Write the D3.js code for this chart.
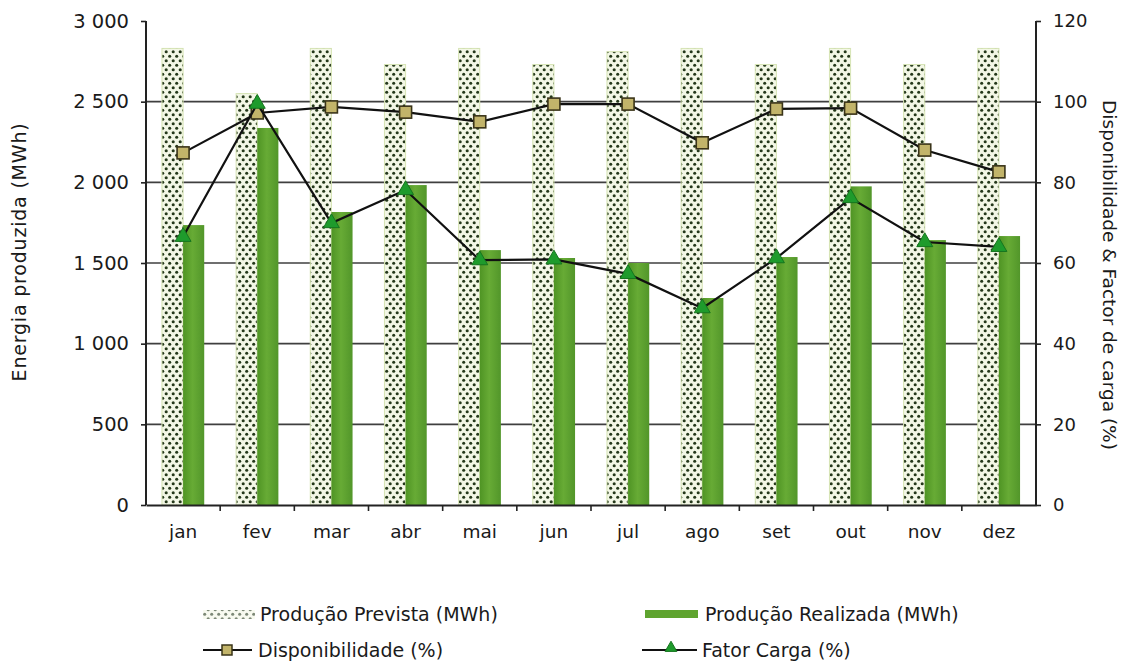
<!DOCTYPE html>
<html>
<head>
<meta charset="utf-8">
<script src="https://cdn.jsdelivr.net/npm/d3@7"></script>
<style>
  html, body { margin: 0; padding: 0; background: #fff; }
  svg { display: block; font-family: "DejaVu Sans", Verdana, sans-serif; }
</style>
</head>
<body>
<svg id="chart" width="1125" height="661"></svg>
<script>
// ---- data ----
const months = ["jan", "fev", "mar", "abr", "mai", "jun", "jul", "ago", "set", "out", "nov", "dez"];
const producaoPrevista = [2830, 2550, 2830, 2730, 2830, 2730, 2810, 2830, 2730, 2830, 2730, 2830];
const producaoRealizada = [1735, 2337, 1816, 1983, 1580, 1531, 1500, 1283, 1537, 1975, 1642, 1667];
const disponibilidade = [87.3, 97.2, 98.7, 97.4, 95.0, 99.4, 99.4, 89.8, 98.2, 98.4, 88.0, 82.6];
const fatorCarga = [66.5, 99.5, 69.9, 78.1, 60.7, 60.9, 57.3, 48.8, 61.2, 76.1, 65.2, 64.0];
const leftTicks = [0, 500, 1000, 1500, 2000, 2500, 3000];
const rightTicks = [0, 20, 40, 60, 80, 100, 120];
const seriesNames = ["Produção Prevista (MWh)", "Produção Realizada (MWh)", "Disponibilidade (%)", "Fator Carga (%)"];
const leftTitle = "Energia produzida  (MWh)";
const rightTitle = "Disponibilidade  & Factor de carga (%)";

// ---- layout ----
const L = 146, R = 1036, T = 21, B = 505;
const svg = d3.select("#chart");

const x = d3.scaleBand().domain(months).range([L, R]).padding(0);
const yL = d3.scaleLinear().domain([0, 3000]).range([B, T]);
const yR = d3.scaleLinear().domain([0, 120]).range([B, T]);
const barW = x.bandwidth() * 0.285;

// ---- defs ----
const defs = svg.append("defs");
const pat = defs.append("pattern").attr("id", "dots")
  .attr("patternUnits", "userSpaceOnUse").attr("width", 7).attr("height", 9);
pat.append("rect").attr("width", 7).attr("height", 9).attr("fill", "#f3f7e6");
pat.append("circle").attr("cx", 1.7).attr("cy", 2.2).attr("r", 1.55).attr("fill", "#24381a");
pat.append("circle").attr("cx", 5.2).attr("cy", 6.7).attr("r", 1.55).attr("fill", "#24381a");

const grad = defs.append("linearGradient").attr("id", "greenbar")
  .attr("x1", "0%").attr("x2", "100%").attr("y1", "0%").attr("y2", "0%");
grad.append("stop").attr("offset", "0%").attr("stop-color", "#4f9424");
grad.append("stop").attr("offset", "45%").attr("stop-color", "#67ab35");
grad.append("stop").attr("offset", "100%").attr("stop-color", "#52962a");

// ---- gridlines ----
svg.append("g").selectAll("line").data(leftTicks.filter(d => d > 0 && d < 3000)).join("line")
  .attr("x1", L).attr("x2", R)
  .attr("y1", d => yL(d)).attr("y2", d => yL(d))
  .attr("stroke", "#3f3f3f").attr("stroke-width", 1.6);

// ---- bars ----
const gBars = svg.append("g");
gBars.selectAll("rect.prev").data(months).join("rect").attr("class", "prev")
  .attr("x", (m) => x(m) + x.bandwidth() / 2 - barW)
  .attr("width", barW)
  .attr("y", (m, i) => yL(producaoPrevista[i]))
  .attr("height", (m, i) => yL(0) - yL(producaoPrevista[i]))
  .attr("fill", "url(#dots)")
  .attr("stroke", "#d6e4b4").attr("stroke-width", 1);
gBars.selectAll("rect.real").data(months).join("rect").attr("class", "real")
  .attr("x", (m) => x(m) + x.bandwidth() / 2)
  .attr("width", barW)
  .attr("y", (m, i) => yL(producaoRealizada[i]))
  .attr("height", (m, i) => yL(0) - yL(producaoRealizada[i]))
  .attr("fill", "url(#greenbar)");

// ---- axes ----
const axisColor = "#222";
const axL = svg.append("g").attr("transform", `translate(${L},0)`)
  .call(d3.axisLeft(yL).tickValues(leftTicks).tickSize(5).tickPadding(12)
    .tickFormat(d => d3.format(",")(d).replace(/,/g, " ")));
const axR = svg.append("g").attr("transform", `translate(${R},0)`)
  .call(d3.axisRight(yR).tickValues(rightTicks).tickSize(5).tickPadding(12));
const axB = svg.append("g").attr("transform", `translate(0,${B})`)
  .call(d3.axisBottom(x).tickSize(0).tickPadding(20));
[axL, axR, axB].forEach(g => {
  g.select(".domain").attr("stroke", axisColor).attr("stroke-width", 2);
  g.selectAll(".tick line").attr("stroke", axisColor).attr("stroke-width", 1.6);
  g.selectAll("text").attr("fill", "#1a1a1a").attr("font-family", "DejaVu Sans, Verdana, sans-serif");
});
axL.select(".domain").attr("d", `M0,${B}V${T}`);
axR.select(".domain").attr("d", `M0,${B}V${T}`);
axL.selectAll("text").attr("font-size", 19.5);
axR.selectAll("text").attr("font-size", 18);
axB.selectAll("text").attr("font-size", 18.5);
// band-boundary ticks on x axis
axB.append("g").selectAll("line").data(months.slice(1)).join("line")
  .attr("x1", m => x(m)).attr("x2", m => x(m))
  .attr("y1", 0).attr("y2", 6)
  .attr("stroke", axisColor).attr("stroke-width", 1.6);

// ---- axis titles ----
svg.append("text")
  .attr("transform", `translate(26,252) rotate(-90)`)
  .attr("text-anchor", "middle").attr("font-size", 19).attr("letter-spacing", 0.8)
  .attr("fill", "#1a1a1a").text(leftTitle);
svg.append("text")
  .attr("transform", `translate(1103,275) rotate(90)`)
  .attr("text-anchor", "middle").attr("font-size", 18.5)
  .attr("fill", "#1a1a1a").text(rightTitle);

// ---- lines ----
const cx = m => x(m) + x.bandwidth() / 2;
const lineD = d3.line().x((d, i) => cx(months[i])).y(d => yR(d));
svg.append("path").datum(disponibilidade).attr("d", lineD)
  .attr("fill", "none").attr("stroke", "#111").attr("stroke-width", 2.2);
svg.append("g").selectAll("rect").data(disponibilidade).join("rect")
  .attr("x", (d, i) => cx(months[i]) - 6).attr("y", d => yR(d) - 6)
  .attr("width", 12).attr("height", 12)
  .attr("fill", "#c2b46a").attr("stroke", "#3a3419").attr("stroke-width", 1.6);

svg.append("path").datum(fatorCarga).attr("d", lineD)
  .attr("fill", "none").attr("stroke", "#111").attr("stroke-width", 2.2);
const tri = d3.symbol().type(d3.symbolTriangle).size(110);
svg.append("g").selectAll("path").data(fatorCarga).join("path")
  .attr("transform", (d, i) => `translate(${cx(months[i])},${yR(d)})`)
  .attr("d", tri)
  .attr("fill", "#1e9b2c").attr("stroke", "#16751f").attr("stroke-width", 1);

// ---- legend ----
const lg = svg.append("g").attr("font-size", 19).attr("fill", "#1a1a1a");
// Prevista
lg.append("rect").attr("x", 203).attr("y", 610).attr("width", 52).attr("height", 9)
  .attr("fill", "url(#dots)").attr("opacity", 0.6);
lg.append("text").attr("x", 260).attr("y", 621).text(seriesNames[0]);
// Realizada
lg.append("rect").attr("x", 645).attr("y", 610).attr("width", 53).attr("height", 8)
  .attr("fill", "#5fa42f");
lg.append("text").attr("x", 705).attr("y", 621).text(seriesNames[1]);
// Disponibilidade
lg.append("line").attr("x1", 203).attr("x2", 252).attr("y1", 650).attr("y2", 650)
  .attr("stroke", "#111").attr("stroke-width", 2.2);
lg.append("rect").attr("x", 222).attr("y", 645).attr("width", 10).attr("height", 10)
  .attr("fill", "#c2b46a").attr("stroke", "#3a3419").attr("stroke-width", 1.5);
lg.append("text").attr("x", 258).attr("y", 657).text(seriesNames[2]);
// Fator Carga
lg.append("line").attr("x1", 642).attr("x2", 697).attr("y1", 650).attr("y2", 650)
  .attr("stroke", "#111").attr("stroke-width", 2.2);
lg.append("path").attr("transform", "translate(671,648)")
  .attr("d", d3.symbol().type(d3.symbolTriangle).size(60))
  .attr("fill", "#1e9b2c").attr("stroke", "#16751f").attr("stroke-width", 1);
lg.append("text").attr("x", 702).attr("y", 657).text(seriesNames[3]);
</script>
</body>
</html>
